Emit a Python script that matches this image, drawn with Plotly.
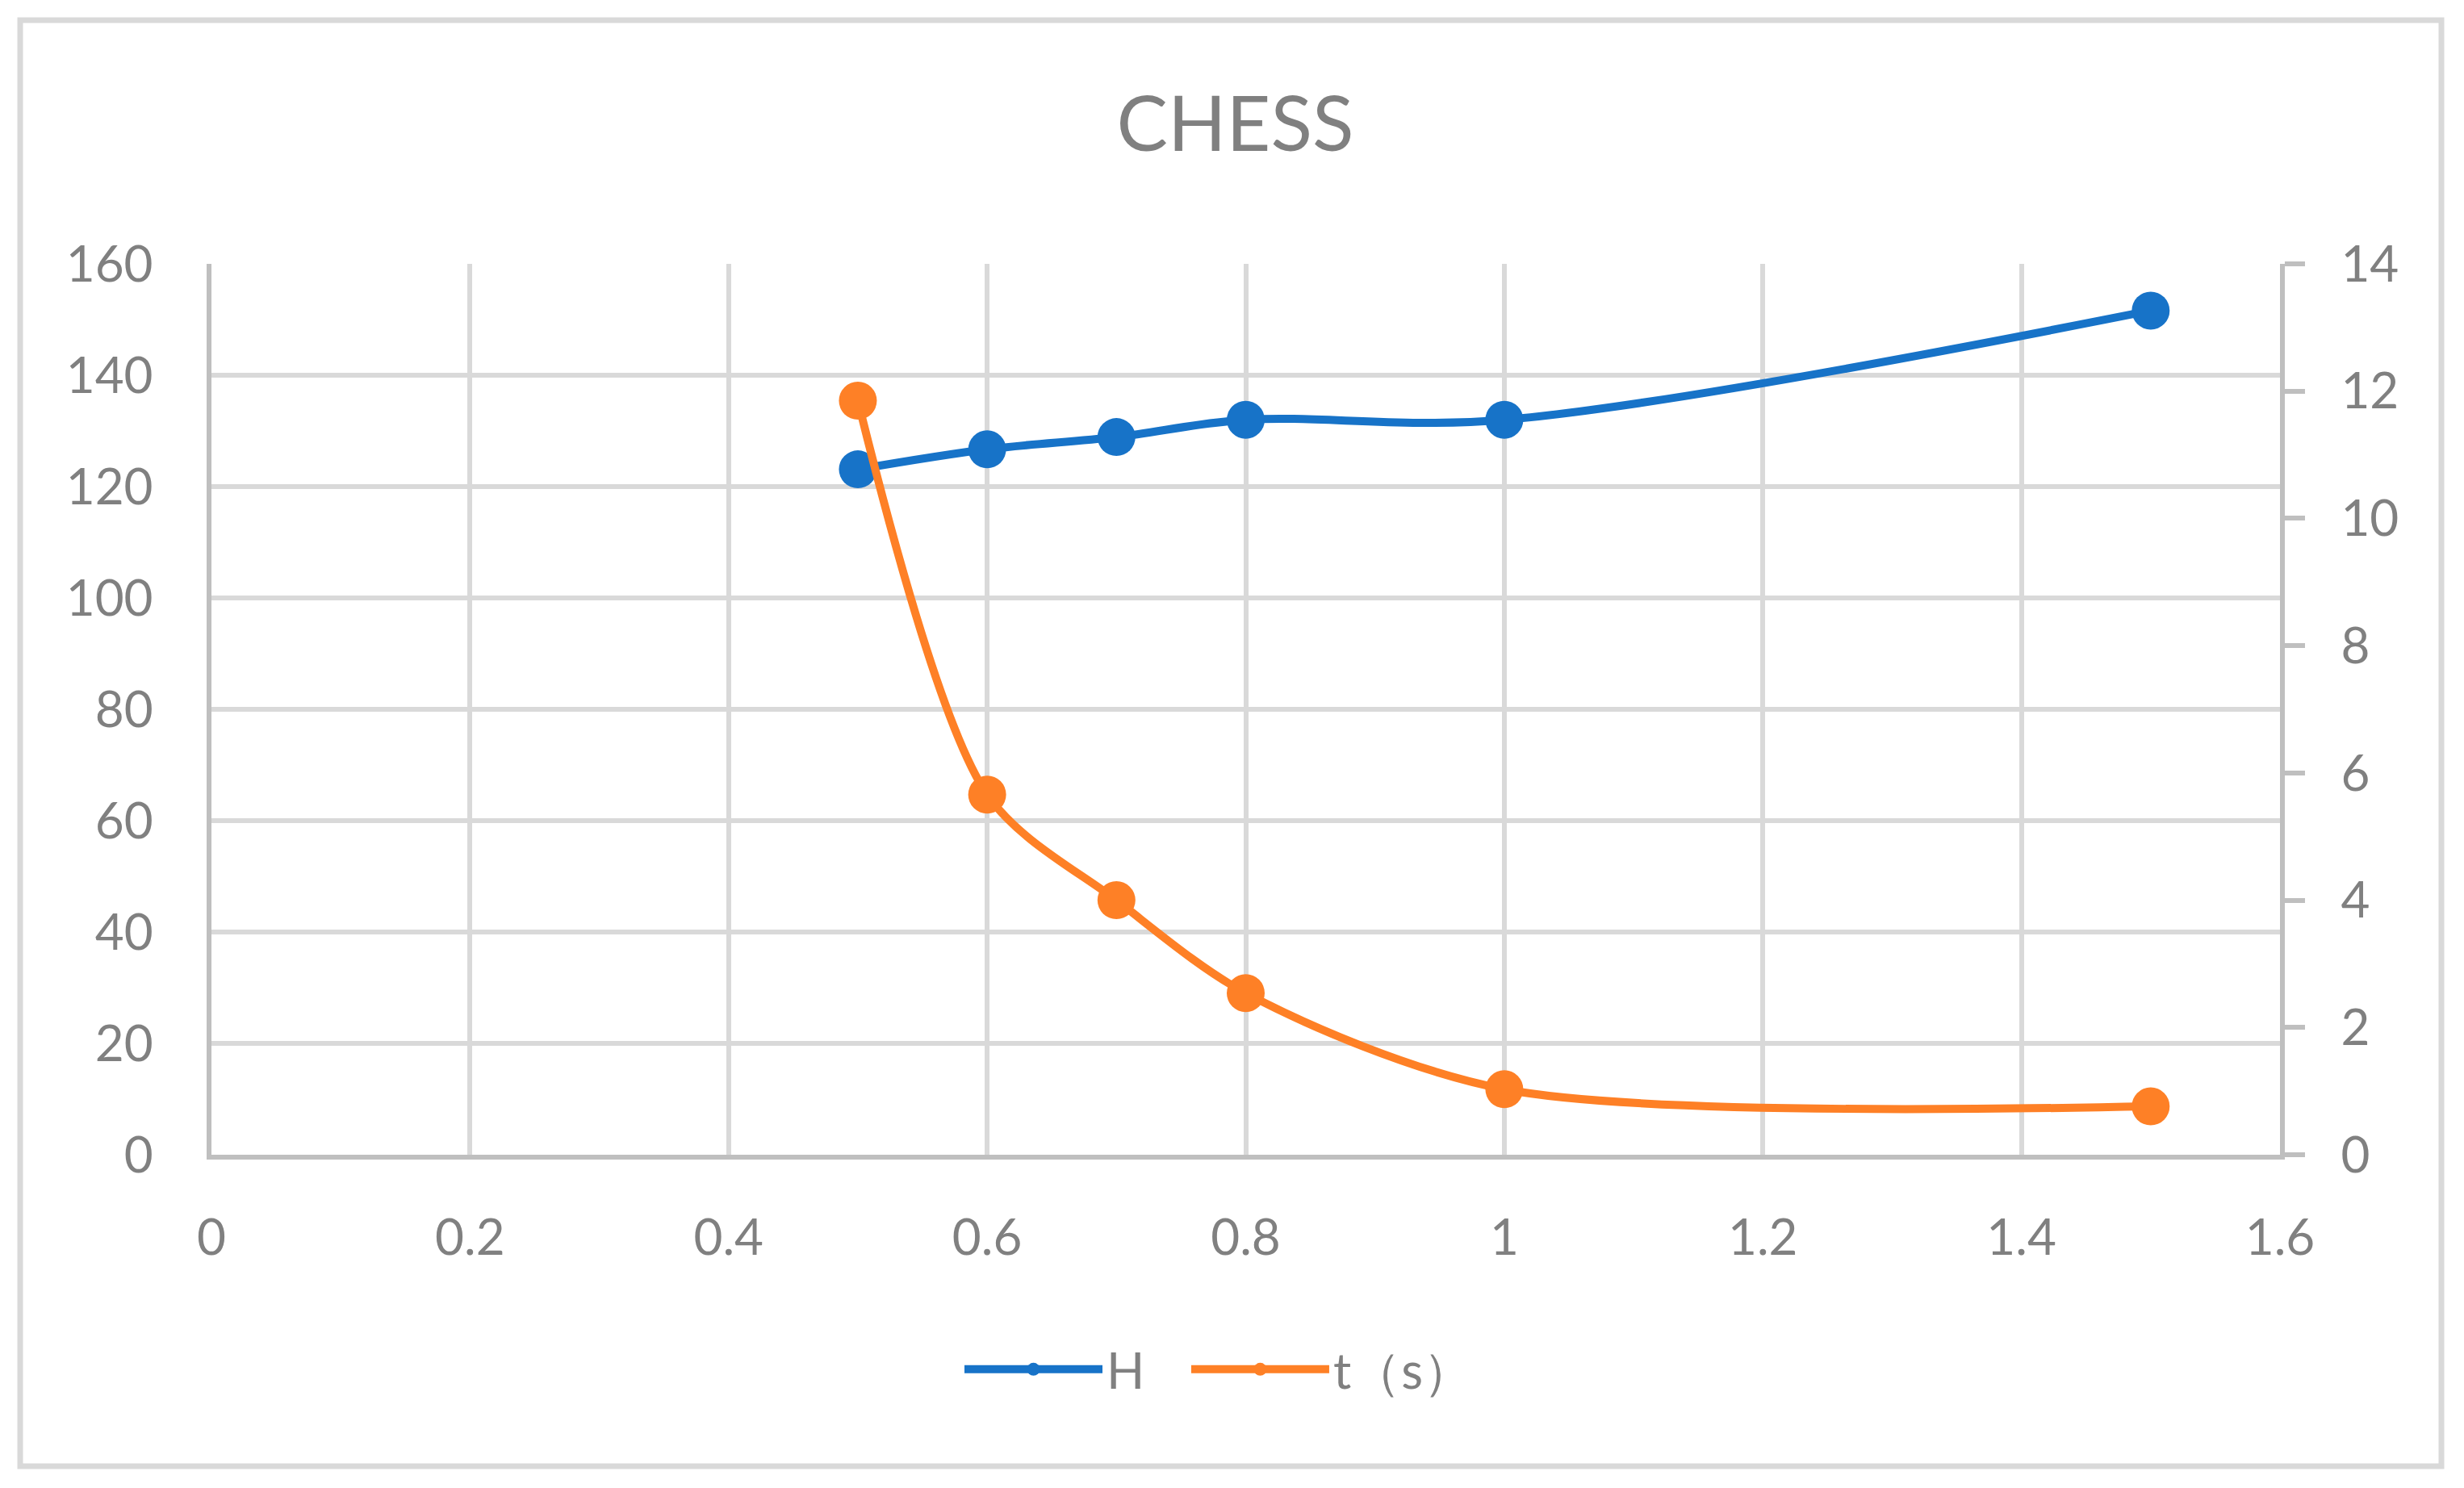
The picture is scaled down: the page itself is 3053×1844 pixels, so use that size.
import plotly.graph_objects as go

# ---- data ----
x_vals = [0.5, 0.6, 0.7, 0.8, 1.0, 1.5]
h_vals = [123.1, 126.7, 128.9, 132.0, 132.0, 151.6]
t_vals = [11.85, 5.66, 4.00, 2.54, 1.03, 0.76]

x_ticks = [0, 0.2, 0.4, 0.6, 0.8, 1, 1.2, 1.4, 1.6]
y_left_ticks = [0, 20, 40, 60, 80, 100, 120, 140, 160]
y_right_ticks = [0, 2, 4, 6, 8, 10, 12, 14]

title_text = "CHESS"
name_h = "H"
name_t = "t（s）"

BLUE = "#1773C8"
ORANGE = "#FE8026"
GRID = "#D9D9D9"
AXIS = "#BFBFBF"
TEXT = "#808080"
FONT = "Lato"

W, H = 3053, 1844
OFF = 8  # page body offset compensation
L, R, T, B = 262 - OFF, 228 + OFF, 327 - OFF, 413 + OFF

NBSP = "\u00a0"

fig = go.Figure()
fig.add_trace(go.Scatter(
    x=x_vals, y=h_vals, name=name_h + NBSP * 3, mode="lines+markers",
    line=dict(color=BLUE, width=10, shape="spline", smoothing=1.0),
    marker=dict(color=BLUE, size=47),
    yaxis="y",
))
fig.add_trace(go.Scatter(
    x=x_vals, y=t_vals, name=name_t, mode="lines+markers",
    line=dict(color=ORANGE, width=10, shape="spline", smoothing=0.85),
    marker=dict(color=ORANGE, size=47),
    yaxis="y2",
))

tickfont = dict(family=FONT, size=62, color=TEXT)

# plot-area size for paper-coordinate decoration (outer chart border)
pw = W - L - R
ph = H - T - B
base = H - B
bx0 = (25 - OFF - L) / pw
bx1 = (3025 - OFF - L) / pw
by0 = (base - (1817 - OFF)) / ph
by1 = (base - (25 - OFF)) / ph

fig.update_layout(
    width=W, height=H,
    margin=dict(l=L, r=R, t=T, b=B, pad=0),
    paper_bgcolor="white", plot_bgcolor="white",
    font=dict(family=FONT, color=TEXT),
    title=dict(text=title_text, x=0.5 - 4 / W, xref="container", xanchor="center",
               y=1 - (154 - OFF) / H, yref="container", yanchor="middle",
               font=dict(family=FONT, size=95, color=TEXT)),
    xaxis=dict(
        range=[0, 1.6], tickmode="array", tickvals=x_ticks,
        ticktext=[f"{v:g}" for v in x_ticks],
        showgrid=True, gridcolor=GRID, gridwidth=6,
        showline=True, linecolor=AXIS, linewidth=6,
        ticks="", ticklabelstandoff=44, tickfont=tickfont,
        zeroline=False,
    ),
    yaxis=dict(
        range=[0, 160], tickmode="array", tickvals=y_left_ticks,
        showgrid=True, gridcolor=GRID, gridwidth=6,
        showline=True, linecolor=AXIS, linewidth=6,
        ticks="", ticklabelstandoff=54, tickfont=tickfont,
        zeroline=False,
    ),
    yaxis2=dict(
        range=[0, 14], tickmode="array", tickvals=y_right_ticks,
        overlaying="y", side="right",
        showgrid=False, showline=True, linecolor=AXIS, linewidth=6,
        ticks="outside", ticklen=25, tickwidth=6, tickcolor=AXIS,
        ticklabelstandoff=32, tickfont=tickfont,
        zeroline=False,
    ),
    legend=dict(orientation="h", x=(1190 - OFF - L) / pw, xanchor="left",
                y=(base - (1697 - OFF)) / ph, yanchor="middle",
                font=dict(family=FONT, size=62, color=TEXT),
                itemsizing="trace", itemwidth=171,
                bgcolor="rgba(0,0,0,0)"),
    shapes=[dict(type="rect", xref="paper", yref="paper",
                 x0=bx0, x1=bx1, y0=by0, y1=by1,
                 line=dict(color=GRID, width=7), fillcolor="rgba(0,0,0,0)",
                 layer="below")],
)

fig.write_html("out.html")
